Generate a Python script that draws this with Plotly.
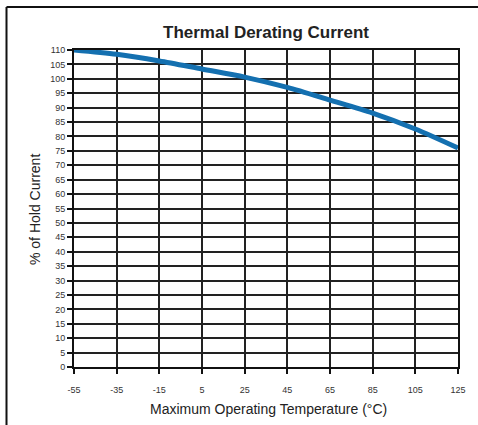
import plotly.graph_objects as go

temps = [-55, -35, -15, 5, 25, 45, 65, 85, 105, 125]
hold_pct = [110, 108.5, 106.2, 103.4, 100.6, 97.0, 92.6, 88.1, 82.6, 76.0]
x_ticks = [-55, -35, -15, 5, 25, 45, 65, 85, 105, 125]
y_ticks = list(range(0, 111, 5))

W, H = 478, 425
L, R, T, B = 74, 20, 50, 58
PW, PH = W - L - R, H - T - B

def px_x(p):
    return (p - L) / PW

def px_y(p):
    return (H - B - p) / PH

fig = go.Figure()
fig.add_trace(go.Scatter(
    x=temps, y=hold_pct, mode="lines",
    line=dict(color="#1470b0", width=5, shape="spline", smoothing=0.8),
    hoverinfo="skip", showlegend=False,
))

font_family = "Liberation Sans, Arial, sans-serif"
fig.update_layout(
    width=W, height=H,
    margin=dict(l=L, r=R, t=T, b=B, autoexpand=False),
    paper_bgcolor="white", plot_bgcolor="white",
    font=dict(family=font_family, color="#222"),
    title=dict(text="<b>Thermal Derating Current</b>", x=(L + PW / 2) / W, xanchor="center",
               y=1 - 32 / H, yanchor="middle", font=dict(size=17, color="#222")),
    xaxis=dict(
        range=[-55, 125], tickvals=x_ticks, ticktext=[str(v) for v in x_ticks],
        showgrid=True, gridcolor="#222", gridwidth=1.5,
        showline=True, linecolor="#111", linewidth=2, mirror=True,
        ticks="outside", ticklen=5, tickwidth=1.5, tickcolor="#111",
        tickfont=dict(size=9, color="#333"), ticklabelstandoff=8,
        zeroline=False, automargin=False,
    ),
    yaxis=dict(
        range=[0, 110], tickvals=y_ticks, ticktext=[str(v) for v in y_ticks],
        showgrid=True, gridcolor="#222", gridwidth=1.5,
        showline=True, linecolor="#111", linewidth=2, mirror=True,
        ticks="outside", ticklen=5, tickwidth=1.5, tickcolor="#111",
        tickfont=dict(size=9, color="#333"),
        zeroline=False, automargin=False,
    ),
    annotations=[
        dict(text="Maximum Operating Temperature (°C)", xref="paper", yref="paper",
             x=px_x(268), y=px_y(409), xanchor="center", yanchor="middle",
             showarrow=False, font=dict(size=14, color="#222")),
        dict(text="% of Hold Current", xref="paper", yref="paper",
             x=px_x(35), y=px_y(210), xanchor="center", yanchor="middle", textangle=-90,
             showarrow=False, font=dict(size=14, color="#222")),
    ],
    shapes=[
        dict(type="line", xref="paper", yref="paper", x0=px_x(6.5), x1=px_x(480),
             y0=px_y(7), y1=px_y(7), line=dict(color="#111", width=2)),
        dict(type="line", xref="paper", yref="paper", x0=px_x(6.5), x1=px_x(6.5),
             y0=px_y(7), y1=px_y(430), line=dict(color="#111", width=2)),
    ],
)

fig.write_html(
    "out.html",
    config={"displayModeBar": False},
    post_script="document.body.style.margin='0';document.body.style.overflow='hidden';",
)
